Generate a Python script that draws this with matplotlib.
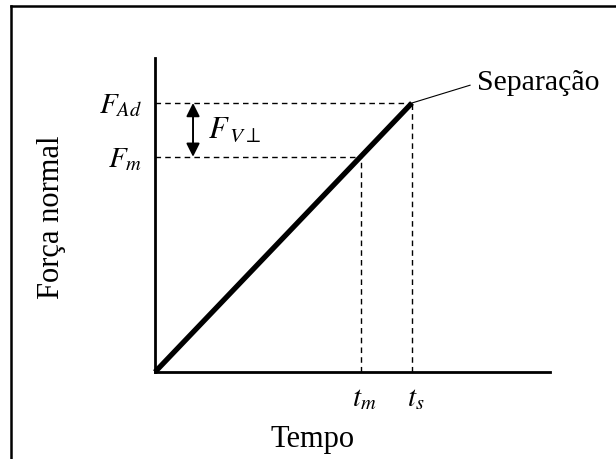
import matplotlib
matplotlib.use("Agg")
import matplotlib.pyplot as plt
import matplotlib.transforms as mtransforms
from matplotlib.lines import Line2D

plt.rcParams['font.family'] = ['Liberation Serif', 'DejaVu Serif']
plt.rcParams['mathtext.fontset'] = 'stix'

# dados (normalizados)
tempo = [0.0, 1.0]          # origem -> separacao
forca = [0.0, 1.0]
t_m, F_m = 0.8, 0.8
t_s, F_Ad = 1.0, 1.0
xmax, ymax = 1.537, 1.167

x_ticks = [t_m, t_s]
x_tick_labels = [r'$t_m$', r'$t_s$']
y_ticks = [F_m, F_Ad]
y_tick_labels = [r'$F_m$', r'$F_{Ad}$']

fig = plt.figure(figsize=(6.16, 4.59), dpi=100)
ax = fig.add_axes([0.2516, 0.1895, 0.6412, 0.684])

# reta principal
ax.plot(tempo, forca, color='black', lw=3.8, solid_capstyle='butt', clip_on=False)

# linhas tracejadas
dash = dict(color='black', lw=1.0, ls=(0, (4, 3)))
ax.plot([0, t_m], [F_m, F_m], **dash)
ax.plot([0, t_s], [F_Ad, F_Ad], **dash)
ax.plot([t_m, t_m], [0, F_m], **dash)
ax.plot([t_s, t_s], [0, F_Ad], **dash)

# seta dupla F_V
xa = 0.148
ax.annotate('', xy=(xa, F_Ad), xytext=(xa, F_m),
            arrowprops=dict(arrowstyle='<|-|>', color='black', lw=1.4,
                            mutation_scale=20, shrinkA=0, shrinkB=0))
ax.text(0.206, (F_m + F_Ad) / 2, r'$F_{\,V\perp}$', fontsize=22,
        va='center', ha='left')

# Separacao
ax.annotate('Separação', xy=(t_s, F_Ad), xytext=(1.253, 1.074),
            fontsize=21.5, va='center', ha='left',
            arrowprops=dict(arrowstyle='-', color='black', lw=0.8,
                            relpos=(0, 0.5), shrinkA=3, shrinkB=0))

ax.set_xlim(0, xmax)
ax.set_ylim(0, ymax)
for s in ['top', 'right']:
    ax.spines[s].set_visible(False)
for s in ['left', 'bottom']:
    ax.spines[s].set_linewidth(2)

ax.set_xticks(x_ticks)
ax.set_xticklabels(x_tick_labels, fontsize=21)
ax.set_yticks(y_ticks)
ax.set_yticklabels(y_tick_labels, fontsize=21)
ax.tick_params(length=0)
ax.tick_params(axis='x', pad=10)
ax.tick_params(axis='y', pad=9)
off = mtransforms.ScaledTranslation(4 / 100, 0, fig.dpi_scale_trans)
for lab in ax.get_xticklabels():
    lab.set_transform(lab.get_transform() + off)

ax.set_xlabel('Tempo', fontsize=22)
ax.xaxis.set_label_coords(0.40, -0.17)
ax.set_ylabel('Força normal', fontsize=22)
ax.yaxis.set_label_coords(-0.225, 0.494)

# moldura externa
fig.add_artist(Line2D([11 / 616, 11 / 616], [0, 1 - 6 / 459], color='black', lw=1.8,
                      transform=fig.transFigure))
fig.add_artist(Line2D([11 / 616, 1], [1 - 6 / 459, 1 - 6 / 459], color='black', lw=1.8,
                      transform=fig.transFigure))

fig.savefig('out.png', dpi=100)
